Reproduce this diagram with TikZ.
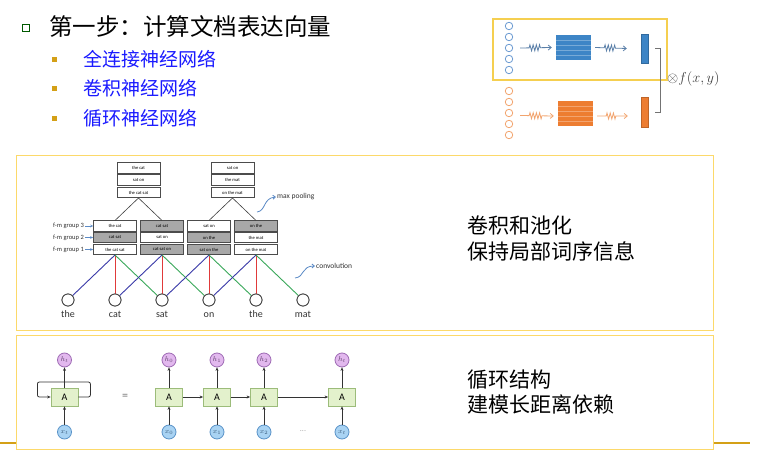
\documentclass[tikz,border=0pt]{standalone}
\usepackage{fontspec}
\setmainfont{Carlito}
\newfontfamily\cjk{Noto Sans CJK SC}
\usetikzlibrary{arrows.meta,decorations.pathmorphing,calc}
\definecolor{panelc}{HTML}{FCD96A}
\definecolor{goldc}{HTML}{D4A017}
\definecolor{framec}{HTML}{F5CF50}
\definecolor{textblue}{HTML}{1A1AFF}
\definecolor{bluec}{HTML}{6C9BD2}
\definecolor{squigblue}{HTML}{5A7FA8}
\definecolor{bluefill}{HTML}{3D85C6}
\definecolor{orangec}{HTML}{F2A46E}
\definecolor{orangefill}{HTML}{ED7D31}
\definecolor{cellgray}{HTML}{A8A8A8}
\definecolor{lblue}{HTML}{5B8AC6}
\definecolor{convblue}{HTML}{3A3AA8}
\definecolor{convred}{HTML}{E03A3A}
\definecolor{convgreen}{HTML}{3AA85A}
\definecolor{afill}{HTML}{E3F1CC}
\definecolor{aborder}{HTML}{9CBC7A}
\definecolor{hfill}{HTML}{E2B8EE}
\definecolor{hborder}{HTML}{9E6BB4}
\definecolor{xfill}{HTML}{A9D3F3}
\definecolor{xborder}{HTML}{5A93C8}
\begin{document}
\begin{tikzpicture}[x=1pt,y=-1pt,
  panel/.style={draw=panelc,line width=0.9pt,fill=white,inner sep=0pt},
  cjkbig/.style={font=\cjk\fontsize{23.5}{28}\selectfont,anchor=west,inner sep=0pt},
  cjksub/.style={font=\cjk\fontsize{19}{23}\selectfont,anchor=west,inner sep=0pt,text=textblue},
  cjkside/.style={font=\cjk\fontsize{21}{26}\selectfont,anchor=west,inner sep=0pt,align=left},
  subbullet/.style={fill=goldc,minimum size=5pt,inner sep=0pt},
  smallcirc/.style={circle,draw,line width=0.8pt,minimum size=7.5pt,inner sep=0pt},
  stripebox/.style={rectangle,inner sep=0pt,minimum width=35pt,minimum height=25pt,
    path picture={\foreach \k in {1,...,4}{\draw[stripec,line width=0.3pt]
      ($(path picture bounding box.north west)!\k/5!(path picture bounding box.south west)$) --
      ($(path picture bounding box.north east)!\k/5!(path picture bounding box.south east)$);}}},
  vecbox/.style={rectangle,inner sep=0pt,minimum width=7pt},
  squig/.style={decorate,decoration={zigzag,amplitude=3pt,segment length=3.2pt,pre length=9pt,post length=11pt},
    line width=0.8pt,-{Straight Barb[length=3pt,width=5pt]}},
  cell/.style={draw=black!70,line width=0.5pt,minimum width=43pt,minimum height=10.5pt,inner sep=0pt,
    font=\fontsize{4.6}{5}\selectfont},
  gcell/.style={cell,fill=cellgray},
  wcell/.style={cell,fill=white},
  word/.style={circle,draw=black!75,line width=0.8pt,fill=white,minimum size=12pt,inner sep=0pt},
  wordlab/.style={font=\fontsize{10}{12}\selectfont,text=black!80,text height=7pt,text depth=2pt},
  fmlab/.style={font=\fontsize{6.5}{7}\selectfont,anchor=east,inner sep=1pt,text=black!80},
  fmarrow/.style={draw=lblue,line width=0.6pt,-{Stealth[length=3pt,width=2.5pt]}},
  notelab/.style={font=\fontsize{7.5}{9}\selectfont,anchor=west,inner sep=1pt,text=black!80},
  curvearrow/.style={draw=lblue,line width=0.8pt,-{Straight Barb[length=2.5pt,width=4pt]}},
  conv/.style={line width=0.9pt},
  abox/.style={draw=aborder,fill=afill,line width=0.8pt,minimum width=27pt,minimum height=18pt,inner sep=0pt,
    font=\fontsize{10}{12}\selectfont},
  hcirc/.style={circle,draw=hborder,fill=hfill,line width=0.8pt,minimum size=14pt,inner sep=0pt,
    font=\fontsize{7}{8}\selectfont,text=hborder!60!black},
  xcirc/.style={circle,draw=xborder,fill=xfill,line width=0.8pt,minimum size=14pt,inner sep=0pt,
    font=\fontsize{7}{8}\selectfont,text=xborder!60!black},
  rnnarrow/.style={draw=black!80,line width=0.8pt,-{Stealth[length=3.5pt,width=3pt]}}
]
\useasboundingbox (0,0) rectangle (761,462);
% bottom gold rule
\coordinate (ruleL) at (0,443);
\coordinate (ruleR) at (750,443);
\draw[goldc,line width=2pt] (ruleL) -- (ruleR);

% ---------- title and list ----------
\node[draw=green!35!black,fill=white,line width=1pt,minimum size=6.5pt,inner sep=0pt] (mainbullet) at (26,28) {};
\node[cjkbig] (title) at (49,27) {第一步：计算文档表达向量};
\node[subbullet] (sb1) at (54.5,60) {};
\node[subbullet] (sb2) at (54.5,89) {};
\node[subbullet] (sb3) at (54.5,119) {};
\node[cjksub] (item1) at (83,59) {全连接神经网络};
\node[cjksub] (item2) at (83,88) {卷积神经网络};
\node[cjksub] (item3) at (83,118) {循环神经网络};

% ---------- top-right figure ----------
\node[draw=framec,line width=1.8pt,minimum width=174pt,minimum height=61pt,inner sep=0pt] (topframe) at (580,49.5) {};
\foreach \i/\y in {1/26,2/37,3/48,4/59,5/70}{\node[smallcirc,draw=bluec] (bc\i) at (509,\y) {};}
\foreach \i/\y in {1/91,2/102,3/113,4/124,5/135}{\node[smallcirc,draw=orangec] (oc\i) at (509,\y) {};}
\colorlet{stripec}{bluefill!70!white}
\node[stripebox,fill=bluefill] (brect) at (573.5,47.5) {};
\colorlet{stripec}{orangefill!70!white}
\node[stripebox,fill=orangefill] (orect) at (575.5,113.5) {};
\node[vecbox,fill=bluefill,draw=bluefill!80!black,line width=0.4pt,minimum height=29pt] (bvec) at (644.5,48.5) {};
\node[vecbox,fill=orangefill,draw=orangefill!80!black,line width=0.4pt,minimum height=30pt] (ovec) at (644.5,112) {};
\draw[squig,draw=squigblue] ($(bc3.east)+(7,0)$) -- ($(brect.west)+(-4,0)$);
\draw[squig,draw=squigblue] ($(brect.east)+(4,0)$) -- ($(bvec.west)+(-14,0)$);
\draw[squig,draw=orangec] ($(oc3.east)+(7,2.5)$) -- ($(orect.west)+(-4,2.5)$);
\draw[squig,draw=orangec] ($(orect.east)+(4,2.5)$) -- ($(ovec.west)+(-13,4)$);
\draw[black!55,line width=0.8pt] ($(bvec.east)+(7,0)$) -- ++(5,0) coordinate (brk) -- (brk |- ovec.east) -- ++(-5,0);
\node[anchor=west,inner sep=0pt,font=\fontsize{14}{16}\selectfont,text=black!75] (fxy) at (667,79) {$\otimes f(x,y)$};

% ---------- CNN panel ----------
\node[panel,minimum width=697pt,minimum height=175pt] (cnnpanel) at (364.5,242.5) {};
% words
\foreach \i/\x/\w in {1/68/the,2/115/cat,3/162/sat,4/209/on,5/256/the,6/303/mat}{
  \node[word] (w\i) at (\x,300) {};
  \node[wordlab] (wl\i) at (\x,315) {\w};
}
% groups
\node[wcell] (g1a) at (115,226) {the cat};
\node[gcell] (g1b) at (115,237.5) {cat sat};
\node[wcell] (g1c) at (115,249.5) {the cat sat};
\node[gcell] (g2a) at (162,226) {cat sat};
\node[wcell] (g2b) at (162,237.5) {sat on};
\node[gcell] (g2c) at (162,249.5) {cat sat on};
\node[wcell] (g3a) at (209,226) {sat on};
\node[gcell] (g3b) at (209,237.5) {on the};
\node[gcell] (g3c) at (209,249.5) {sat on the};
\node[gcell] (g4a) at (256,226) {on the};
\node[wcell] (g4b) at (256,237.5) {the mat};
\node[wcell] (g4c) at (256,249.5) {on the mat};
% pooled
\node[wcell] (p1a) at (138.5,168) {the cat};
\node[wcell] (p1b) at (138.5,180) {sat on};
\node[wcell] (p1c) at (138.5,192.5) {the cat sat};
\node[wcell] (p2a) at (232.5,168) {sat on};
\node[wcell] (p2b) at (232.5,180) {the mat};
\node[wcell] (p2c) at (232.5,192.5) {on the mat};
\draw[black!75,line width=0.6pt] (g1a.north) -- (p1c.south) -- (g2a.north);
\draw[black!75,line width=0.6pt] (g3a.north) -- (p2c.south) -- (g4a.north);
% convolution lines
\foreach \g/\a/\b/\c in {1/1/2/3,2/2/3/4,3/3/4/5,4/4/5/6}{
  \draw[conv,convblue] (g\g c.south) -- (w\a);
  \draw[conv,convred] (g\g c.south) -- (w\b);
  \draw[conv,convgreen] (g\g c.south) -- (w\c);
}
\foreach \i in {1,...,6}{\node[word] at (w\i) {};}
% feature map labels
\node[fmlab] (fm3) at (85,226) {f-m group 3};
\node[fmlab] (fm2) at (85,237.5) {f-m group 2};
\node[fmlab] (fm1) at (85,249.5) {f-m group 1};
\draw[fmarrow] (fm3.east) -- (g1a.west);
\draw[fmarrow] (fm2.east) -- (g1b.west);
\draw[fmarrow] (fm1.east) -- (g1c.west);
% notes
\node[notelab] (mp) at (276,197) {max pooling};
\coordinate (mpstart) at (257,212);
\draw[curvearrow] (mpstart) .. controls (266,211) and (263,198) .. (mp.west);
\node[notelab] (cv) at (315,266) {convolution};
\coordinate (cvstart) at (295,278);
\draw[curvearrow] (cvstart) .. controls (305,277) and (301,266) .. (cv.west);
\node[cjkside] (cnntext) at (467,239) {卷积和池化\\[0pt]保持局部词序信息};

% ---------- RNN panel ----------
\node[panel,minimum width=697pt,minimum height=114pt] (rnnpanel) at (364.5,392) {};
\node[abox] (A0) at (64.5,397) {A};
\node[hcirc] (h0) at (64.5,360) {$h_t$};
\node[xcirc] (x0) at (64.5,432) {$x_t$};
\draw[rnnarrow] (x0) -- (A0);
\draw[rnnarrow] (A0) -- (h0);
\draw[rnnarrow,rounded corners=2pt] (A0.east) -- ++(12,0) -- ++(0,-15) -- ++(-53,0) -- ++(0,15) -- (A0.west);
\node[font=\fontsize{12}{14}\selectfont,text=black!55] (eq) at (125,397) {=};
\foreach \i/\x/\s in {1/169/0,2/217/1,3/264/2,4/342/t}{
  \node[abox] (A\i) at (\x,397) {A};
  \node[hcirc] (h\i) at (\x,360) {$h_\s$};
  \node[xcirc] (x\i) at (\x,432) {$x_\s$};
  \draw[rnnarrow] (x\i) -- (A\i);
  \draw[rnnarrow] (A\i) -- (h\i);
}
\draw[rnnarrow] (A1) -- (A2);
\draw[rnnarrow] (A2) -- (A3);
\draw[rnnarrow] (A3) -- (A4);
\node[text=black!35,font=\fontsize{8}{9}\selectfont] (dots) at (303,431) {...};
\node[cjkside] (rnntext) at (467,392.5) {循环结构\\[-1pt]建模长距离依赖};
\end{tikzpicture}
\end{document}
